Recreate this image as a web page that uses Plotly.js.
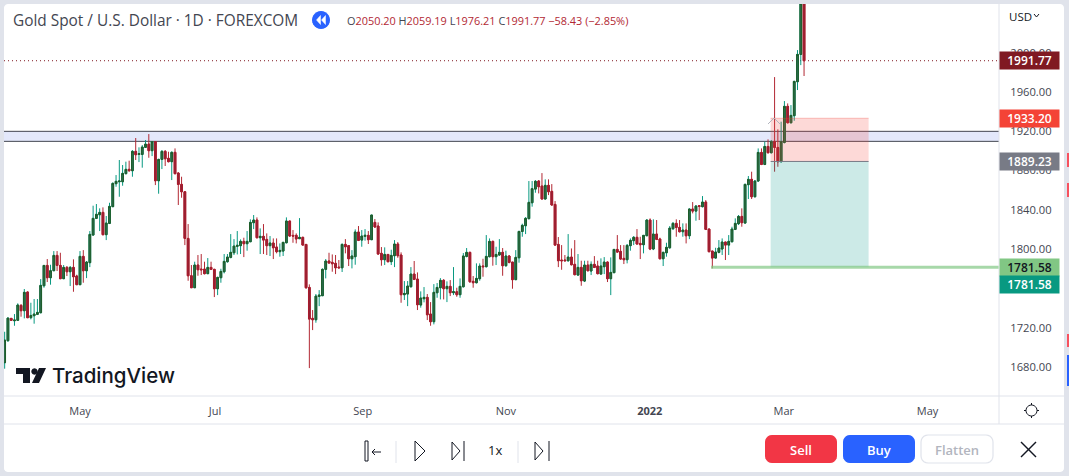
<!DOCTYPE html>
<html><head><meta charset="utf-8">
<script src="https://cdn.plot.ly/plotly-3.0.1.min.js"></script>
<style>html,body{margin:0;padding:0;background:#e0e3eb;overflow:hidden}#c{width:1069px;height:476px}</style>
</head><body><div id="c"></div>
<script>
const openP=[1684.4,1706.8,1729.5,1727.1,1727.5,1742.7,1737.3,1756.3,1730.2,1732.2,
1733.6,1735.3,1762.7,1783.4,1770.9,1778.0,1793.6,1783.4,1769.9,1781.4,
1777.0,1781.4,1772.6,1763.8,1792.6,1778.0,1786.2,1814.3,1831.3,1835.0,
1837.4,1814.7,1826.2,1843.2,1866.6,1868.6,1868.6,1876.8,1881.2,1879.8,
1899.5,1896.4,1896.4,1903.6,1906.9,1900.2,1909.3,1869.6,1891.3,1899.5,
1892.4,1889.0,1898.5,1877.4,1865.9,1858.4,1810.9,1772.9,1760.7,1783.8,
1779.7,1779.7,1775.0,1781.4,1779.4,1759.7,1770.9,1777.0,1787.2,1791.6,
1796.3,1802.8,1803.5,1807.9,1805.5,1807.5,1826.9,1829.6,1811.6,1813.0,
1809.9,1803.5,1806.2,1802.1,1797.4,1798.0,1806.5,1828.6,1814.0,1814.0,
1810.6,1812.0,1804.8,1761.0,1729.5,1728.1,1751.9,1752.6,1779.4,1787.9,
1786.5,1785.5,1781.7,1781.0,1804.8,1803.5,1790.2,1792.3,1817.4,1809.2,
1813.0,1814.0,1809.6,1827.2,1823.5,1795.7,1789.2,1794.6,1787.2,1793.3,
1805.2,1794.0,1753.6,1754.3,1761.7,1774.6,1769.5,1743.1,1749.5,1750.9,
1733.9,1726.1,1755.6,1760.7,1768.2,1759.7,1762.1,1755.6,1756.6,1753.6,
1761.7,1792.6,1796.7,1767.2,1765.8,1769.9,1782.8,1782.1,1792.3,1807.9,
1792.3,1794.0,1796.7,1783.1,1793.0,1786.8,1768.9,1791.2,1818.0,1823.8,
1831.0,1847.2,1861.1,1869.3,1864.2,1851.0,1864.9,1858.8,1845.5,1804.8,
1788.9,1788.9,1788.2,1791.9,1784.5,1773.6,1781.4,1767.5,1783.8,1777.7,
1784.5,1782.8,1774.6,1782.1,1786.8,1769.9,1776.0,1799.7,1797.7,1790.6,
1789.2,1803.5,1808.6,1812.0,1805.8,1804.5,1813.6,1829.6,1800.1,1815.3,
1810.3,1790.2,1796.3,1801.4,1820.8,1826.2,1822.1,1817.7,1819.4,1813.6,
1840.8,1838.7,1844.2,1843.2,1847.9,1820.4,1798.0,1790.9,1796.7,1800.1,
1807.2,1804.1,1807.5,1820.1,1825.9,1833.3,1826.5,1865.6,1871.0,1853.3,
1869.3,1898.4,1886.2,1904.5,1898.1,1909.3,1903.5,1888.9,1908.6,1945.3,
1928.6,1935.8,1970.4,1998.2,2050.2];
const highP=[1715.9,1730.5,1729.8,1733.9,1744.8,1744.1,1759.4,1757.0,1745.4,1749.2,
1749.2,1769.5,1783.8,1789.9,1784.1,1798.0,1798.0,1796.3,1783.8,1782.8,
1782.8,1789.6,1773.9,1798.0,1799.0,1787.9,1818.4,1844.2,1845.9,1841.5,
1842.5,1833.7,1847.2,1867.9,1875.4,1890.7,1885.6,1889.0,1890.0,1900.8,
1913.1,1903.6,1905.9,1911.0,1917.1,1910.0,1910.0,1892.0,1900.8,1900.8,
1899.1,1899.5,1902.5,1878.4,1873.7,1859.1,1825.5,1783.8,1787.2,1794.0,
1795.0,1787.2,1790.9,1787.2,1780.0,1771.9,1780.0,1795.0,1795.0,1815.3,
1810.2,1818.4,1809.9,1811.6,1818.4,1830.3,1834.7,1832.3,1821.1,1825.5,
1816.0,1813.3,1810.9,1810.9,1805.8,1806.9,1832.3,1828.9,1819.4,1816.0,
1831.6,1812.6,1804.8,1764.1,1738.0,1754.3,1758.3,1780.4,1789.9,1796.3,
1794.6,1794.0,1788.9,1805.8,1810.2,1804.1,1799.0,1820.1,1823.5,1819.4,
1820.4,1818.4,1834.7,1830.6,1827.2,1802.1,1801.8,1795.0,1799.4,1809.2,
1807.2,1796.7,1767.5,1767.5,1781.7,1787.9,1776.3,1757.0,1761.4,1754.3,
1746.1,1764.4,1765.5,1770.5,1769.5,1767.2,1768.5,1781.7,1760.7,1770.2,
1796.0,1801.1,1797.4,1772.6,1785.5,1785.5,1790.2,1814.3,1810.9,1808.6,
1802.4,1810.2,1801.1,1798.4,1794.0,1786.8,1799.0,1818.7,1825.9,1832.6,
1869.3,1869.3,1870.3,1870.3,1877.4,1871.0,1871.0,1866.2,1848.9,1812.3,
1804.1,1794.0,1815.3,1800.7,1809.2,1795.0,1788.2,1788.2,1788.2,1787.5,
1792.9,1788.2,1790.6,1791.9,1787.5,1791.6,1800.1,1814.3,1804.1,1804.1,
1805.2,1810.9,1813.3,1820.4,1812.6,1814.0,1830.3,1831.3,1830.3,1829.6,
1811.6,1797.4,1806.5,1823.5,1827.6,1830.3,1829.6,1826.2,1826.2,1841.5,
1847.9,1844.9,1844.9,1854.0,1849.9,1821.1,1798.4,1801.4,1809.2,1810.9,
1807.5,1814.3,1822.8,1831.3,1834.7,1841.5,1866.6,1874.4,1878.8,1870.3,
1902.5,1902.5,1909.3,1911.7,1911.0,1975.1,1921.9,1929.7,1950.7,1948.3,
1946.6,1971.4,2002.6,2065.0,2059.19];
const lowP=[1678.3,1705.7,1727.1,1722.0,1727.1,1731.2,1729.5,1729.8,1728.5,1724.1,
1732.9,1734.6,1760.7,1766.5,1763.8,1777.7,1777.7,1769.5,1769.5,1772.6,
1762.4,1756.6,1763.4,1763.4,1765.8,1770.5,1781.7,1814.0,1830.6,1818.4,
1814.0,1809.2,1825.5,1842.8,1863.5,1853.3,1864.5,1876.1,1878.8,1873.7,
1890.7,1888.6,1882.9,1903.2,1893.0,1894.7,1865.2,1856.4,1881.5,1884.6,
1888.3,1870.3,1876.1,1844.9,1852.3,1804.1,1767.8,1760.4,1760.4,1772.9,
1773.6,1774.3,1774.6,1778.7,1751.2,1753.2,1765.8,1775.3,1786.2,1790.6,
1794.0,1794.6,1795.0,1791.9,1798.4,1807.2,1820.4,1810.9,1795.0,1795.0,
1794.0,1793.0,1789.9,1795.7,1792.3,1793.0,1805.8,1812.6,1806.5,1805.8,
1810.6,1803.8,1759.7,1678.9,1717.6,1725.1,1742.0,1752.2,1770.2,1785.5,
1777.0,1774.6,1780.4,1776.7,1795.7,1782.8,1780.4,1784.1,1808.2,1802.4,
1808.6,1805.2,1809.2,1821.8,1794.3,1783.1,1783.8,1786.5,1783.8,1781.7,
1791.2,1745.4,1748.2,1742.0,1761.0,1768.5,1738.0,1740.4,1745.8,1727.8,
1722.0,1723.4,1750.5,1748.8,1748.8,1746.1,1752.2,1753.2,1751.5,1750.5,
1761.0,1791.6,1765.8,1760.7,1765.1,1767.8,1771.9,1781.4,1791.6,1783.1,
1783.8,1793.3,1772.9,1782.1,1785.5,1759.7,1768.5,1786.2,1812.6,1815.3,
1830.3,1843.2,1857.4,1856.7,1850.6,1850.6,1855.0,1844.2,1803.5,1781.7,
1779.0,1787.5,1787.2,1783.4,1773.3,1772.9,1762.7,1766.5,1777.3,1773.6,
1780.7,1774.3,1774.3,1774.6,1766.5,1753.2,1775.6,1796.3,1789.2,1784.8,
1785.5,1798.4,1804.1,1804.5,1789.9,1795.7,1813.3,1799.0,1799.0,1809.2,
1789.6,1782.8,1792.3,1800.4,1819.4,1812.6,1817.0,1812.6,1805.8,1810.2,
1836.4,1828.9,1829.6,1842.5,1819.4,1796.7,1780.4,1790.6,1795.7,1794.0,
1788.9,1794.0,1806.9,1819.4,1824.5,1822.8,1826.2,1851.0,1851.0,1852.6,
1868.6,1885.5,1885.5,1897.4,1897.4,1878.8,1883.8,1888.3,1907.6,1928.0,
1928.0,1930.7,1961.9,1987.3,1976.21];
const closeP=[1707.4,1729.8,1727.5,1727.8,1743.1,1737.3,1756.0,1730.2,1732.5,1733.9,
1735.6,1763.1,1783.4,1770.9,1778.0,1793.6,1783.4,1769.9,1781.4,1777.0,
1781.4,1771.9,1763.8,1792.6,1778.0,1786.8,1815.0,1831.3,1835.4,1837.4,
1814.7,1826.5,1843.5,1866.9,1869.0,1869.3,1877.1,1881.2,1879.8,1899.5,
1896.1,1897.1,1903.9,1906.9,1900.2,1909.3,1869.6,1891.3,1899.5,1892.0,
1889.0,1898.5,1876.8,1865.9,1858.4,1810.9,1772.9,1760.7,1783.8,1779.0,
1779.0,1775.0,1781.4,1779.4,1759.7,1771.2,1777.3,1787.5,1791.9,1796.7,
1803.1,1803.8,1807.9,1805.5,1807.9,1827.2,1829.6,1811.6,1813.0,1809.2,
1803.5,1806.2,1801.4,1797.4,1798.7,1806.9,1828.6,1813.3,1813.3,1810.3,
1812.0,1804.1,1760.7,1728.8,1728.1,1752.2,1753.2,1779.4,1787.9,1785.8,
1785.1,1781.0,1781.0,1804.8,1802.4,1790.2,1793.0,1817.4,1808.9,1813.3,
1814.0,1809.6,1834.7,1822.5,1795.0,1789.2,1794.6,1787.2,1793.6,1805.2,
1793.3,1753.6,1754.9,1762.4,1774.6,1769.2,1743.4,1750.2,1750.9,1733.2,
1726.1,1756.0,1761.0,1768.2,1759.7,1762.1,1755.6,1756.6,1753.6,1762.1,
1793.0,1796.7,1766.8,1765.8,1770.2,1782.8,1782.1,1792.6,1807.9,1792.3,
1794.6,1796.7,1783.1,1793.0,1786.5,1768.9,1791.6,1818.0,1824.2,1831.3,
1847.6,1861.5,1869.0,1863.5,1851.0,1864.9,1858.4,1844.9,1804.1,1788.2,
1788.2,1788.2,1791.9,1784.1,1774.0,1781.4,1767.8,1783.8,1778.0,1784.5,
1781.4,1775.0,1782.8,1786.8,1769.9,1776.3,1799.7,1797.0,1789.9,1789.2,
1803.8,1808.9,1812.0,1805.2,1804.5,1814.0,1829.6,1800.1,1815.3,1809.9,
1790.2,1796.7,1801.8,1821.4,1826.2,1822.1,1817.7,1819.4,1813.6,1840.8,
1838.7,1843.8,1843.5,1847.9,1820.1,1797.4,1790.9,1797.0,1801.1,1807.2,
1804.1,1807.9,1820.4,1826.2,1833.3,1826.9,1865.9,1871.0,1853.3,1869.3,
1898.4,1886.2,1904.5,1898.1,1909.3,1903.5,1888.9,1909.3,1945.3,1928.6,
1936.1,1970.7,1998.2,2050.2,1991.77];
const barIndex=openP.map((_,i)=>i);
const bodyHigh=openP.map((o,i)=>Math.max(o,closeP[i]));
const bodyLow=openP.map((o,i)=>Math.min(o,closeP[i]));
const monthTicks=[23,64.2,109.3,153,196.9,237.8,281.7];
const monthLabels=['May','Jul','Sep','Nov','<b>2022</b>','Mar','May'];
const priceTicks=[1680,1720,1800,1840,1880,1920,1960,2000];
const priceTickLabels=['1680.00','1720.00','1800.00','1840.00','1880.00','1920.00','1960.00','2000.00'];
const zoneBandTop=1919.9, zoneBandBottom=1909.7;
const lastClose=1991.77, stopPrice=1933.20, entryPrice=1889.23, targetPrice=1781.58;
const posStart=233.8, posEnd=263.7, targetStart=215.6;
const headerFont='"Open Sans", "Noto Sans", sans-serif';
const W=995,H=392;
const X=p=>(p-4)/W, Y=p=>(396-p)/H;
const dk='#131722', chrome='#e0e3eb';
function poly(pts,o){return Object.assign({type:'path',xref:'paper',yref:'paper',
  path:pts.map((p,i)=>(i?'L':'M')+X(p[0])+','+Y(p[1])).join(' ')+(o&&o.closed?' Z':''),
  line:{color:(o&&o.color)||'#131722',width:(o&&o.w)!==undefined?o.w:1},layer:'above'},
  (o&&o.closed)?{fillcolor:o.fill||o.color||'#131722'}:{})}
function rrect(x0,y0,x1,y1,r,fill,border){
  const n=[],k=5;
  const arc=(cx,cy,a0)=>{for(let i=0;i<=k;i++){const a=a0+i/k*Math.PI/2;n.push([cx+r*Math.cos(a),cy+r*Math.sin(a)]);}};
  arc(x0+r,y0+r,Math.PI);arc(x1-r,y0+r,1.5*Math.PI);arc(x1-r,y1-r,0);arc(x0+r,y1-r,.5*Math.PI);
  return poly(n,{closed:true,fill:fill,color:border||fill,w:border?1.2:0});
}
function circlePts(cx,cy,r){const a=[];for(let i=0;i<24;i++){a.push([cx+r*Math.cos(i/24*2*Math.PI),cy+r*Math.sin(i/24*2*Math.PI)]);}return a;}
function txt(x,y,t,size,color,anchor,extra){return Object.assign({xref:'paper',yref:'paper',x:X(x),y:Y(y),text:t,showarrow:false,
  xanchor:anchor||'left',yanchor:'middle',font:{family:headerFont,size:size,color:color}},extra||{});}
function priceBox(p,label,bg,fg,shift){return {xref:'paper',yref:'y',x:1,y:p,xanchor:'left',yanchor:'middle',text:label,showarrow:false,
  width:59,height:17,borderpad:0,bgcolor:bg,align:'center',yshift:shift||0,font:{family:headerFont,size:12,color:fg,weight:600}};}
const shapes=[
  Object.assign(rrect(4,4,1064,472,4,'#ffffff'),{layer:'below'}),
  {type:'rect',xref:'paper',yref:'y',x0:0,x1:1,y0:zoneBandBottom,y1:zoneBandTop,fillcolor:'#e3e8fb',line:{width:0},layer:'below'},
  {type:'line',xref:'paper',yref:'y',x0:0,x1:1,y0:zoneBandTop,y1:zoneBandTop,line:{color:'#434651',width:1},layer:'below'},
  {type:'line',xref:'paper',yref:'y',x0:0,x1:1,y0:zoneBandBottom,y1:zoneBandBottom,line:{color:'#434651',width:1},layer:'below'},
  {type:'line',xref:'paper',yref:'y',x0:0,x1:1,y0:lastClose,y1:lastClose,line:{color:'#801922',width:1,dash:'1px,3px'},layer:'below'},
  {type:'rect',xref:'x',yref:'y',x0:posStart,x1:posEnd,y0:entryPrice,y1:stopPrice,fillcolor:'rgba(244,67,54,0.2)',line:{width:0},layer:'above'},
  {type:'rect',xref:'x',yref:'y',x0:posStart,x1:posEnd,y0:targetPrice,y1:entryPrice,fillcolor:'rgba(0,150,136,0.2)',line:{width:0},layer:'above'},
  {type:'line',xref:'x',yref:'y',x0:posStart,x1:posEnd,y0:stopPrice,y1:stopPrice,line:{color:'rgba(244,67,54,0.3)',width:1},layer:'above'},
  {type:'line',xref:'x',yref:'y',x0:posStart,x1:posEnd,y0:entryPrice,y1:entryPrice,line:{color:'#787b86',width:1},layer:'above'},
  {type:'line',xref:'x',yref:'paper',x0:targetStart,x1:303.5,y0:Y(267.3),y1:Y(267.3),line:{color:'rgba(129,199,132,0.7)',width:3},layer:'above'},
  poly([[768,124],[774,118],[780,124]],{color:'#b2b5be'}),
  poly([[999,4],[999,424]],{color:chrome}),
  poly([[4,396],[1064,396]],{color:chrome}),
  poly([[4,424],[1064,424]],{color:chrome}),
  poly(circlePts(321,20,9),{closed:true,fill:'#2962ff',color:'#2962ff',w:0}),
  poly([[320.5,15.5],[316.5,20],[320.5,24.5]],{closed:true,fill:'#fff',color:'#fff',w:0.5}),
  poly([[325.5,15.5],[321.5,20],[325.5,24.5]],{closed:true,fill:'#fff',color:'#fff',w:0.5}),
  poly(circlePts(1031.5,410.5,5.5).concat([[1037,410.5]]),{color:'#131722'}),
  poly([[1031.5,403],[1031.5,405]],{}),poly([[1031.5,416],[1031.5,418]],{}),
  poly([[1024,410.5],[1026,410.5]],{}),poly([[1037,410.5],[1039,410.5]],{}),
  poly([[16,368],[30,368],[30,383],[23,383],[23,374],[16,374]],{closed:true,fill:dk,color:dk,w:0}),
  poly(circlePts(34.5,371.5,3.2),{closed:true,fill:dk,color:dk,w:0}),
  poly([[39,368],[46,368],[39,383],[32,383]],{closed:true,fill:dk,color:dk,w:0}),
  poly([[365,441],[368,441],[368,461],[365,461],[365,441]],{}),
  poly([[381,452],[372,452]],{}),poly([[375,449],[372,452],[375,455]],{}),
  poly([[396,441],[396,463]],{color:chrome}),
  poly([[415,441],[425,451],[415,461],[415,441]],{}),
  poly([[452,442],[460,451],[452,460],[452,442]],{}),
  poly([[464,441],[464,461]],{}),
  poly([[518,441],[518,463]],{color:chrome}),
  poly([[535,442],[543,451],[535,460],[535,442]],{}),
  poly([[549,441],[549,461]],{}),
  rrect(765,435,837,463,7,'#f23645'),
  rrect(843,435,915,463,7,'#2962ff'),
  rrect(921,435,993,463,7,'#ffffff',chrome),
  poly([[1021,442],[1036,457]],{w:1.4}),poly([[1036,442],[1021,457]],{w:1.4}),
  poly([[1068,153],[1068,167]],{color:'#f7525f',w:2}),
  poly([[1068,183],[1068,197]],{color:'#f7525f',w:2}),
  poly([[1068,334],[1068,347]],{color:'#f7525f',w:2}),
  poly([[1068,355],[1068,386]],{color:'#2962ff',w:2}),
  poly([[1034,14],[1036.5,17],[1039,14]],{color:'#131722'}),
];
const hdr=`<span style="color:#434651">O</span>2050.20 <span style="color:#434651">H</span>2059.19 <span style="color:#434651">L</span>1976.21 <span style="color:#434651">C</span>1991.77 −58.43 (−2.85%)`;
const annotations=[
  txt(11,20,'Gold Spot / U.S. Dollar · 1D · FOREXCOM',15.4,'#434651'),
  txt(345,20.5,hdr,10.9,'#b22833'),
  txt(1007,16,'USD',11.5,'#131722'),
  txt(50,375.5,'TradingView',20.5,dk,'left',{font:{family:'Inter, "Open Sans", sans-serif',size:20.5,color:dk,weight:500}}),
  txt(495,450,'1x',13,'#131722','center'),
  txt(801,449.5,'Sell',13,'#ffffff','center',{font:{family:headerFont,size:13,color:'#fff',weight:600}}),
  txt(879,449.5,'Buy',13,'#ffffff','center',{font:{family:headerFont,size:13,color:'#fff',weight:600}}),
  txt(957,449.5,'Flatten',13,'#b2b5be','center',{font:{family:headerFont,size:13,color:'#b2b5be',weight:600}}),
  priceBox(lastClose,'1991.77','#801922','#ffffff'),
  priceBox(stopPrice,'1933.20','#f44336','#ffffff'),
  priceBox(entryPrice,'1889.23','#787b86','#ffffff'),
  priceBox(targetPrice,'1781.58','#81c784','#131722'),
  priceBox(targetPrice,'1781.58','#089981','#ffffff',-17),
];
const wicks={type:'candlestick',x:barIndex,open:openP,high:highP,low:lowP,close:closeP,
  increasing:{line:{color:'#089981',width:1},fillcolor:'#089981'},
  decreasing:{line:{color:'#b22833',width:1},fillcolor:'#b22833'},
  hoverinfo:'skip',showlegend:false};
const bodies={type:'candlestick',x:barIndex,open:openP,high:bodyHigh,low:bodyLow,close:closeP,
  increasing:{line:{color:'#1f5c28',width:1},fillcolor:'#2e6f55'},
  decreasing:{line:{color:'#a81c2e',width:1},fillcolor:'#8a2436'},
  hoverinfo:'skip',showlegend:false};
Plotly.newPlot('c',[wicks,bodies],{
  width:1069,height:476,
  margin:{l:4,r:70,t:4,b:80,pad:0},
  paper_bgcolor:'#e0e3eb',plot_bgcolor:'rgba(0,0,0,0)',
  showlegend:false,boxmode:'overlay',boxgap:0.25,hovermode:false,
  xaxis:{type:'linear',range:[-0.2,303.5],rangeslider:{visible:false},showgrid:false,zeroline:false,showline:false,
    tickmode:'array',tickvals:monthTicks,ticktext:monthLabels,ticks:'outside',ticklen:5,tickcolor:'rgba(0,0,0,0)',
    tickfont:{family:headerFont,size:11,color:'#434651'},fixedrange:true},
  yaxis:{type:'linear',side:'right',range:[1650.5,2049.5],tickmode:'array',tickvals:priceTicks,ticktext:priceTickLabels,showgrid:false,zeroline:false,showline:false,
    ticks:'outside',ticklen:8,tickcolor:'rgba(0,0,0,0)',tickfont:{family:headerFont,size:11.2,color:'#434651'},fixedrange:true},
  shapes:shapes,annotations:annotations
},{displayModeBar:false,staticPlot:true});
</script></body></html>
